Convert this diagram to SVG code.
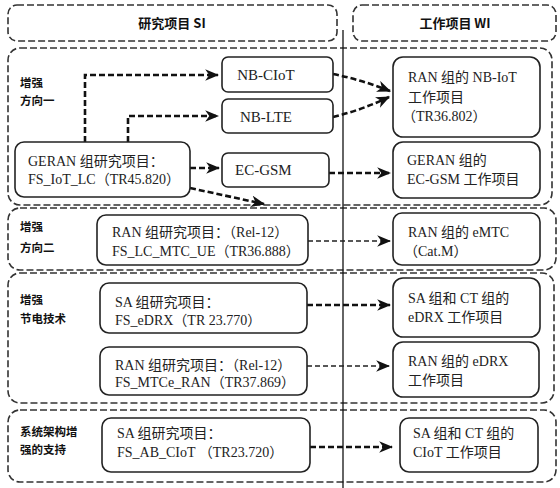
<svg xmlns="http://www.w3.org/2000/svg" width="560" height="488" viewBox="0 0 560 488">
<defs>
<style>
.sec{fill:none;stroke:#333;stroke-width:1.6;stroke-dasharray:7,3}
.node{fill:#fff;stroke:#222;stroke-width:1.6}
.t{font-family:"Liberation Serif","Noto Sans CJK SC",serif;font-size:14px;fill:#222}
.b{font-size:15px}
.lab{font-family:"Noto Sans CJK SC",sans-serif;font-size:11.5px;font-weight:bold;fill:#111}
.hd{font-family:"Noto Sans CJK SC",sans-serif;font-size:13px;font-weight:bold;fill:#111}
.thick{fill:none;stroke:#111;stroke-width:2.6;stroke-dasharray:6,3}
.thin{fill:none;stroke:#222;stroke-width:1.3;stroke-dasharray:5,3}
</style>
<marker id="ah" viewBox="0 0 12 10" refX="11" refY="5" markerWidth="14" markerHeight="12" markerUnits="userSpaceOnUse" orient="auto">
<path d="M0,0 L12,5 L0,10 L3.5,5 z" fill="#111"/>
</marker>
</defs>
<rect width="560" height="488" fill="#fff"/>

<g id="headers">
<rect class="sec" x="8" y="5" width="329" height="36" rx="9"/>
<text class="hd" x="172" y="28" text-anchor="middle">研究项目 SI</text>
<rect class="sec" x="353" y="5" width="203" height="36" rx="9"/>
<text class="hd" x="455" y="28" text-anchor="middle">工作项目 WI</text>
</g>

<g id="sections">
<rect class="sec" x="8" y="48" width="544" height="157" rx="12"/>
<rect class="sec" x="8" y="208" width="548" height="62" rx="12"/>
<rect class="sec" x="8" y="273" width="546" height="130" rx="12"/>
<rect class="sec" x="8" y="410" width="548" height="72" rx="12"/>
<text class="lab" x="20" y="87">增强</text>
<text class="lab" x="20" y="105">方向一</text>
<text class="lab" x="20" y="231">增强</text>
<text class="lab" x="20" y="252">方向二</text>
<text class="lab" x="20" y="304">增强</text>
<text class="lab" x="20" y="323">节电技术</text>
<text class="lab" x="20" y="436">系统架构增</text>
<text class="lab" x="20" y="454">强的支持</text>
</g>

<line x1="343" y1="30" x2="343" y2="488" stroke="#111" stroke-width="1.3"/>

<g id="connectors">
<path class="thick" d="M85,142 L85,75 L218,75" marker-end="url(#ah)"/>
<path class="thick" d="M128,142 L128,116 L218,116" marker-end="url(#ah)"/>
<path class="thick" d="M190,168 L219,168" marker-end="url(#ah)"/>
<path class="thick" d="M190,188 L264,204" marker-end="url(#ah)"/>
<path class="thick" d="M333,74 Q362,80 390,91" marker-end="url(#ah)"/>
<path class="thick" d="M333,117 Q362,110 389,97" marker-end="url(#ah)"/>
<path class="thick" d="M329,173 L390,173" marker-end="url(#ah)"/>
<path class="thin" d="M308,241 L390,241" marker-end="url(#ah)"/>
<path class="thick" d="M307,305 L390,305" marker-end="url(#ah)"/>
<path class="thin" d="M307,366 L389,366" marker-end="url(#ah)"/>
<path class="thick" d="M310,447 L392,447" marker-end="url(#ah)"/>
</g>

<g id="n-geran">
<rect class="node" x="15" y="142" width="175" height="55" rx="9"/>
<text class="t" x="28" y="166">GERAN 组研究项目：</text>
<text class="t" x="28" y="184">FS_IoT_LC（TR45.820）</text>
</g>
<g id="n-nbciot">
<rect class="node" x="222" y="57" width="111" height="35" rx="6"/>
<text class="t b" x="266" y="80" text-anchor="middle">NB-CIoT</text>
</g>
<g id="n-nblte">
<rect class="node" x="222" y="99" width="111" height="34" rx="6"/>
<text class="t b" x="266" y="122" text-anchor="middle">NB-LTE</text>
</g>
<g id="n-ecgsm">
<rect class="node" x="222" y="153" width="107" height="34" rx="6"/>
<text class="t b" x="235" y="175">EC-GSM</text>
</g>
<g id="w-nbiot">
<rect class="node" x="393" y="57" width="147" height="80" rx="10"/>
<text class="t" x="408" y="82">RAN 组的 NB-IoT</text>
<text class="t" x="408" y="102">工作项目</text>
<text class="t" x="402" y="121">（TR36.802）</text>
</g>
<g id="w-ecgsm">
<rect class="node" x="393" y="142" width="147" height="56" rx="10"/>
<text class="t" x="407" y="165">GERAN 组的</text>
<text class="t" x="407" y="184">EC-GSM 工作项目</text>
</g>
<g id="n-lcmtc">
<rect class="node" x="97" y="215" width="211" height="50" rx="9"/>
<text class="t" x="112" y="237">RAN 组研究项目：（Rel-12）</text>
<text class="t" x="112" y="256">FS_LC_MTC_UE（TR36.888）</text>
</g>
<g id="w-emtc">
<rect class="node" x="393" y="213" width="147" height="52" rx="9"/>
<text class="t" x="408" y="237">RAN 组的 eMTC</text>
<text class="t" x="404" y="256">（Cat.M）</text>
</g>
<g id="n-edrx">
<rect class="node" x="100" y="283" width="207" height="50" rx="9"/>
<text class="t" x="115" y="307">SA 组研究项目：</text>
<text class="t" x="115" y="325">FS_eDRX（TR 23.770）</text>
</g>
<g id="w-edrx-sa">
<rect class="node" x="393" y="278" width="147" height="59" rx="10"/>
<text class="t" x="408" y="303">SA 组和 CT 组的</text>
<text class="t" x="408" y="322">eDRX 工作项目</text>
</g>
<g id="n-mtce">
<rect class="node" x="100" y="347" width="207" height="48" rx="9"/>
<text class="t" x="115" y="370">RAN 组研究项目：（Rel-12）</text>
<text class="t" x="115" y="387">FS_MTCe_RAN（TR37.869）</text>
</g>
<g id="w-edrx-ran">
<rect class="node" x="393" y="342" width="146" height="55" rx="10"/>
<text class="t" x="408" y="366">RAN 组的 eDRX</text>
<text class="t" x="408" y="385">工作项目</text>
</g>
<g id="n-abciot">
<rect class="node" x="102" y="418" width="208" height="54" rx="9"/>
<text class="t" x="117" y="438">SA 组研究项目：</text>
<text class="t" x="117" y="457">FS_AB_CIoT （TR23.720）</text>
</g>
<g id="w-ciot">
<rect class="node" x="400" y="418" width="138" height="54" rx="9"/>
<text class="t" x="413" y="438">SA 组和 CT 组的</text>
<text class="t" x="413" y="457">CIoT 工作项目</text>
</g>
</svg>
